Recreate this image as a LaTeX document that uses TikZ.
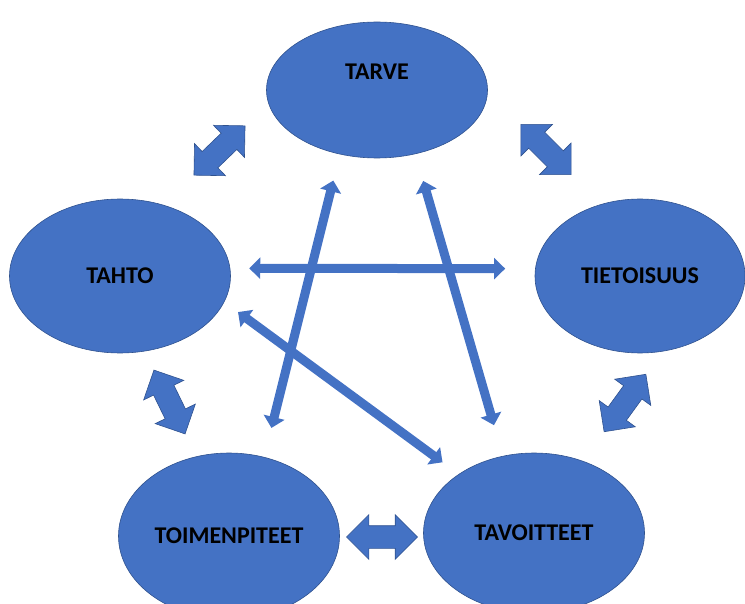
\documentclass[tikz,border=0pt]{standalone}
\usepackage{fontspec}
\setmainfont{Carlito}
\usetikzlibrary{shapes,arrows.meta}
\definecolor{officeblue}{HTML}{4472C4}
\definecolor{officeedge}{HTML}{2F528F}
\tikzset{
	lbl/.style      = {font=\fontsize{24}{28}\selectfont\bfseries},
	state/.style    = {draw=officeedge, fill=officeblue, ellipse, line width=0.6pt,
		inner sep=0pt, lbl},
	bigarrow/.style = {draw=officeedge, fill=officeblue, double arrow, line width=0.6pt,
		inner sep=0pt, text height=22pt, text depth=0pt, minimum height=71pt,
		minimum width=44pt, double arrow head extend=11pt},
	link/.style     = {officeblue, line width=9pt,
		{Triangle[width=21pt,length=11pt]}-{Triangle[width=21pt,length=11pt]}}
}

\begin{document}
\begin{tikzpicture}[x=1pt, y=-1pt]
\useasboundingbox (0,0) rectangle (745,604);
\clip (0,0) rectangle (745,604);
\draw
node at (377,90) [state, minimum width=221, minimum height=136,
	label={[name=tarvetext, lbl, yshift=18pt]center:TARVE}] (tarve) {}
node at (120,276) [state, minimum width=221, minimum height=154] (tahto) {TAHTO}
node at (640,276) [state, minimum width=210, minimum height=154] (tieto) {TIETOISUUS}
node at (229,536) [state, minimum width=221, minimum height=166] (toimen) {TOIMENPITEET}
node at (534,533) [state, minimum width=221, minimum height=160] (tavo) {TAVOITTEET};

% wide arrows between neighbours
\draw
node at (219.5,150.5) [bigarrow, rotate=44] (a1) {}
node at (546,149.5) [bigarrow, rotate=-45] (a2) {}
node at (169.5,402) [bigarrow, rotate=-64] (a3) {}
node at (625,403) [bigarrow, rotate=54] (a4) {}
node at (382,537) [bigarrow] (a5) {};

% thin arrows across the middle
\draw[link, shorten <=19pt, shorten >=30pt] (tahto.4) -- (tieto.176);
\draw[link, shorten <=27pt, shorten >=30pt] (tarve.240) -- (toimen.66);
\draw[link, shorten <=28pt, shorten >=32pt] (tarve.301) -- (tavo.112);
\draw[link, shorten <=17pt, shorten >=20pt] (tahto.346) -- (tavo.142);
\end{tikzpicture}
\end{document}
